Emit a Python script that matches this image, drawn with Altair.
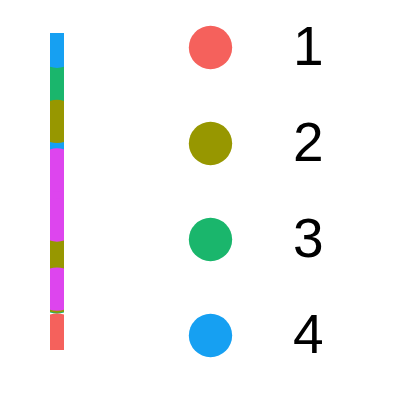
import altair as alt
import pandas as pd

# draw order matters: later points are painted over earlier ones
groups = [3, 4, 4, 2, 2, 3, 2, 5, 5, 5, 5, 1]
values = [8.39, 9.58, 6.94, 7.21, 3.00, 1.83, 1.86, 4.89, 5.68, 4.10, 1.92, 0.47]
xpos = [0] * len(values)

categories = [1, 2, 3, 4, 5]
colors = ["#F5615C", "#979700", "#1AB66C", "#16A0F2", "#DD45EE"]
legend_values = [1, 2, 3, 4]

df = pd.DataFrame({"x": xpos, "y": values, "g": groups, "order": list(range(len(values)))})

chart = (
    alt.Chart(df)
    .mark_circle(size=1880, opacity=1, clip=True)
    .encode(
        x=alt.X("x:Q", axis=None, scale=alt.Scale(domain=[-1, 1])),
        y=alt.Y("y:Q", axis=None, scale=alt.Scale(domain=[0, 10], nice=False, zero=False)),
        color=alt.Color(
            "g:N",
            title=None,
            scale=alt.Scale(domain=categories, range=colors),
            legend=alt.Legend(
                values=legend_values,
                orient="none",
                legendX=133,
                legendY=-13,
                direction="vertical",
                symbolType="circle",
                symbolSize=1880,
                symbolStrokeWidth=0,
                labelFont="Liberation Sans",
                labelFontSize=55,
                labelColor="#000000",
                labelOffset=55,
                rowPadding=40,
            ),
        ),
        order=alt.Order("order:Q"),
    )
    .properties(
        width=14,
        height=317,
        autosize=alt.AutoSizeParams(type="none"),
        padding={"left": 50, "top": 33, "right": 336, "bottom": 50},
    )
    .configure_view(stroke=None)
)

chart.save("out.html", embed_options={"renderer": "svg", "actions": False})
